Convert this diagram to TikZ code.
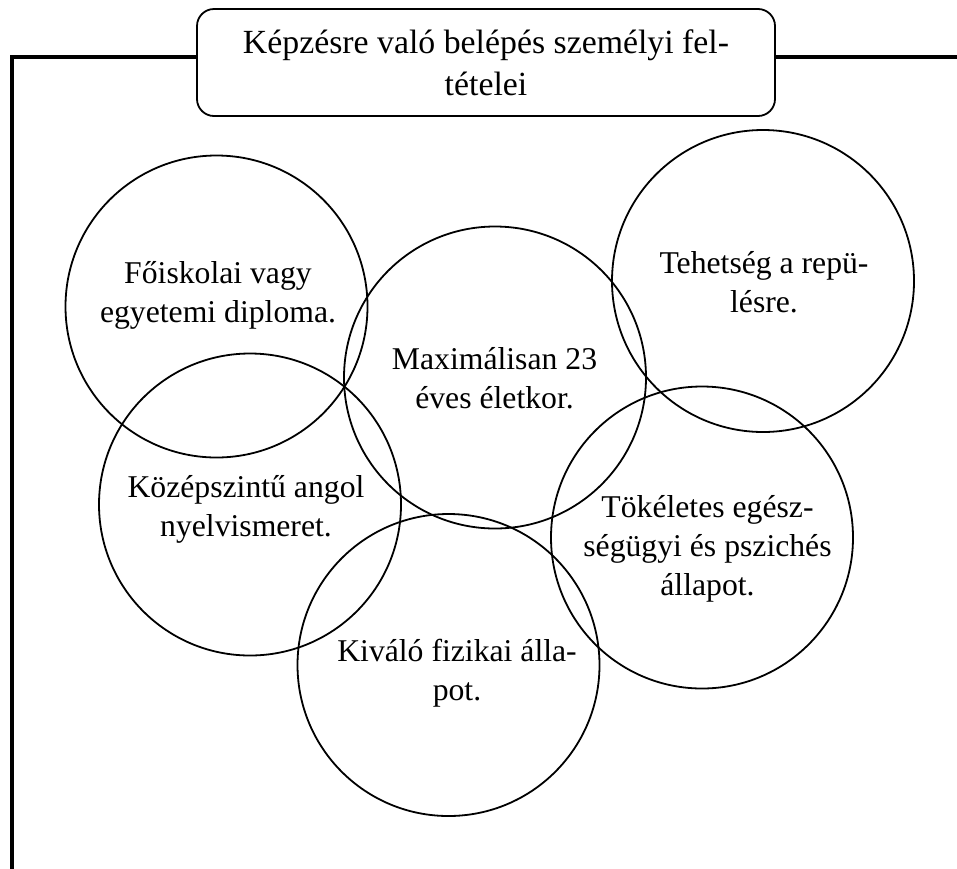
\documentclass[tikz,border=0pt]{standalone}
\usepackage{fontspec}
\setmainfont{Liberation Serif}

\begin{document}
\begin{tikzpicture}[x=1pt,y=-1pt,
  ring/.style={draw, circle, line width=1.8pt, minimum size=302pt, inner sep=0pt},
  ringtext/.style={align=center, font=\fontsize{31.7}{39}\selectfont},
  titlebox/.style={draw, rounded corners=17pt, line width=1.8pt, minimum width=578pt,
    minimum height=107pt, align=center, font=\fontsize{33.8}{42}\selectfont},
  frame/.style={line width=4pt}]
\useasboundingbox (0,0) rectangle (957,868);
% title and frame
\node[titlebox] (title) at (486,62.5) {Képzésre való belépés személyi fel-\\tételei};
\coordinate (corner) at (12,57);
\coordinate (bottom) at (12,870);
\coordinate (edge) at (960,57);
\draw[frame] ([yshift=5.5pt]title.west) -- (corner) -- (bottom);
\draw[frame] ([yshift=5.5pt]title.east) -- (edge);
% circles
\node[ring] (diploma) at (216.5,306.5) {};
\node[ringtext] (diplomatext) at (218,295) {Főiskolai vagy\\egyetemi diploma.};
\node[ring] (eletkor) at (495,377.5) {};
\node[ringtext] (eletkortext) at (494.5,378) {Maximálisan 23\\éves életkor.};
\node[ring] (repules) at (763,281) {};
\node[ringtext] (repulestext) at (764,282) {Tehetség a repü-\\lésre.};
\node[ring] (angol) at (250,504.5) {};
\node[ringtext] (angoltext) at (246,509) {Középszintű angol\\nyelvismeret.};
\node[ring] (egeszseg) at (702,537.5) {};
\node[ringtext] (egeszsegtext) at (707.5,549) {Tökéletes egész-\\ségügyi és pszichés\\állapot.};
\node[ring] (fizikai) at (448.5,665) {};
\node[ringtext] (fizikaitext) at (457,673) {Kiváló fizikai álla-\\pot.};
\end{tikzpicture}
\end{document}
